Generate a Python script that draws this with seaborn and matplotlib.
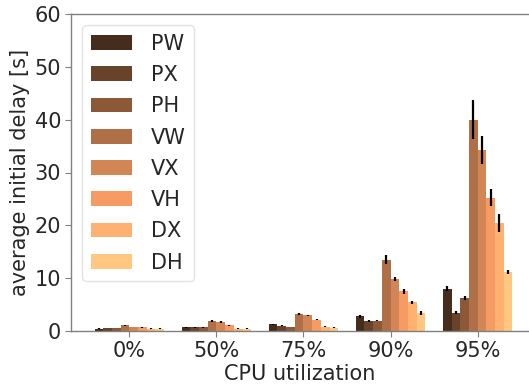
import numpy as np
import pandas as pd
import matplotlib
matplotlib.use("Agg")
import matplotlib.pyplot as plt
import seaborn as sns

utilization = ["0%", "50%", "75%", "90%", "95%"]
schemes = ["PW", "PX", "PH", "VW", "VX", "VH", "DX", "DH"]

# mean initial delay [s] per scheme, in order of utilization
PW = [0.45, 0.70, 1.25, 2.80, 8.0]
PX = [0.55, 0.70, 1.00, 1.85, 3.5]
PH = [0.60, 0.70, 0.75, 1.95, 6.3]
VW = [1.10, 1.90, 3.25, 13.5, 40.0]
VX = [0.75, 1.70, 2.95, 9.8, 34.3]
VH = [0.70, 1.10, 2.15, 7.5, 25.2]
DX = [0.45, 0.45, 0.85, 5.4, 20.5]
DH = [0.45, 0.45, 0.65, 3.4, 11.2]

# error half-widths
PW_err = [0.08, 0.08, 0.10, 0.25, 0.50]
PX_err = [0.05, 0.05, 0.08, 0.15, 0.30]
PH_err = [0.05, 0.05, 0.05, 0.15, 0.35]
VW_err = [0.10, 0.15, 0.15, 0.80, 3.70]
VX_err = [0.08, 0.15, 0.15, 0.35, 2.70]
VH_err = [0.08, 0.10, 0.15, 0.45, 1.60]
DX_err = [0.05, 0.05, 0.10, 0.35, 1.70]
DH_err = [0.05, 0.05, 0.05, 0.30, 0.35]

values = [PW, PX, PH, VW, VX, VH, DX, DH]
errors = [PW_err, PX_err, PH_err, VW_err, VX_err, VH_err, DX_err, DH_err]

rows = []
for s, vals, errs in zip(schemes, values, errors):
    for u, v, e in zip(utilization, vals, errs):
        rows.append({"util": u, "scheme": s, "delay": v, "err": e})
df = pd.DataFrame(rows)

cmap = matplotlib.colormaps["copper"]
palette = [cmap(x) for x in np.linspace(2 / 9, 1.0, len(schemes))]

sns.set_style("white")
plt.rcParams["font.family"] = ["DejaVu Sans"]

FS = 15

fig = plt.figure(figsize=(5.29, 3.88), dpi=100)
ax = fig.add_axes([71 / 529, 1 - 331 / 388, 1 - 71 / 529, (331 - 14) / 388])

sns.barplot(data=df, x="util", y="delay", hue="scheme", order=utilization,
            hue_order=schemes, palette=palette, saturation=1, errorbar=None,
            linewidth=0, ax=ax)

# error bars at the bar centers created by seaborn
for container, s in zip(ax.containers, schemes):
    sub = df[df["scheme"] == s].set_index("util").loc[utilization]
    xs = [p.get_x() + p.get_width() / 2 for p in container.patches]
    hs = [p.get_height() for p in container.patches]
    ax.errorbar(xs, hs, yerr=sub["err"].values, fmt="none", ecolor="black",
                elinewidth=1.6, capsize=0, zorder=5)

ax.set_ylim(0, 60)
ax.set_yticks([0, 10, 20, 30, 40, 50, 60])
ax.set_xlim(-0.67, 4.59)
ax.set_xlabel("CPU utilization", fontsize=FS, labelpad=2)
ax.set_ylabel("average initial delay [s]", fontsize=FS, labelpad=3)
ax.tick_params(axis="both", labelsize=FS, length=4, width=0.8,
               color="#808080", direction="out", bottom=True, left=True,
               pad=3)
for side in ["left", "bottom", "top"]:
    ax.spines[side].set_color("#808080")
    ax.spines[side].set_linewidth(1.0)
ax.spines["right"].set_visible(False)

leg = ax.legend(loc="upper left", fontsize=FS, frameon=True,
                handlelength=2.0, handleheight=0.7, labelspacing=0.54,
                borderpad=0.4, handletextpad=0.9, borderaxespad=0.55)
leg.get_frame().set_edgecolor("#dddddd")

fig.savefig("out.png", dpi=100)
